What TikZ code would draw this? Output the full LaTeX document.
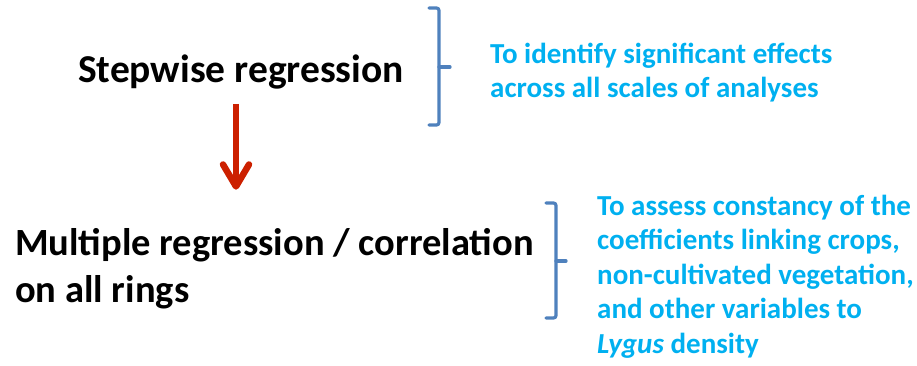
\documentclass[tikz,border=0pt]{standalone}
\usepackage{fontspec}
\setmainfont{Carlito}
\usepackage{xcolor}
\usepackage{tikz}
\usetikzlibrary{arrows.meta, positioning, calc}
\definecolor{aimblue}{RGB}{0,176,240}
\definecolor{bracecol}{RGB}{79,129,189}
\definecolor{flowred}{RGB}{204,32,0}

\begin{document}
\begin{tikzpicture}[
  x=1pt, y=-1pt,
  stage/.style={
    inner sep=0pt, align=left, text=black,
    font=\fontsize{39.5}{40}\selectfont\bfseries
  },
  note/.style={
    inner sep=0pt, align=left, text=aimblue, anchor=base west,
    font=\fontsize{29}{34.5}\selectfont\bfseries
  },
  brace/.style={draw=bracecol, line width=3.2pt, rounded corners=2.5pt, line cap=round},
  arr/.style={-{Straight Barb[length=22pt, width=26pt, round]}, line width=6.5pt, flowred}
]
  \path[use as bounding box] (0,0) rectangle (917,366);

  \node[stage, anchor=base] (step) at (241,83) {Stepwise regression};
  \node[stage, anchor=base west, font=\fontsize{38.5}{47}\selectfont\bfseries]
    (multi) at (15,302) {Multiple regression / correlation\\on all rings};

  \node[note] (why1) at (490,98) {To identify significant effects\\across all scales of analyses};
  \node[note] (why2) at (597,353) {To assess constancy of the\\coefficients linking crops,\\non-cultivated vegetation,\\and other variables to\\\textit{Lygus} density};

  % braces
  \draw[brace] (429,8) -- (439,8) -- (439,125) -- (429,125);
  \draw[brace] (439,67) -- (450,67);
  \draw[brace] (546,203) -- (556,203) -- (556,318) -- (546,318);
  \draw[brace] (556,261) -- (566,261);

  \draw[arr] ($(step.south)+(-5,14)$) -- ($(step.south |- multi.north)+(-5,-38)$);
\end{tikzpicture}
\end{document}
